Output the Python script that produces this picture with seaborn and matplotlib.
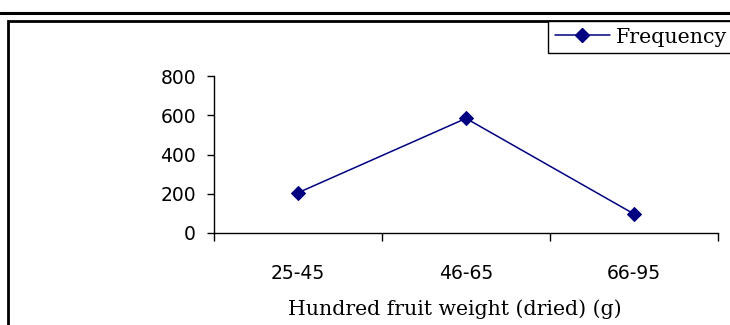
import matplotlib
matplotlib.use("Agg")
import matplotlib.pyplot as plt
from matplotlib.lines import Line2D
from matplotlib.patches import Rectangle
import numpy as np
import pandas as pd
import seaborn as sns

categories = ["25-45", "46-65", "66-95"]
frequency = [205, 584, 97]
y_ticks = [0, 200, 400, 600, 800]
x_label = "Hundred fruit weight (dried) (g)"
series_name = "Frequency"

sns.set_style("white")
plt.rcParams['font.family'] = ['DejaVu Sans']
plt.rcParams['text.color'] = 'black'
plt.rcParams['xtick.color'] = 'black'
plt.rcParams['ytick.color'] = 'black'
plt.rcParams['axes.labelcolor'] = 'black'

W, H = 730, 325
fig = plt.figure(figsize=(W / 100, H / 100), dpi=100)
ax = fig.add_axes([214 / W, 1 - 233 / H, (718 - 214) / W, (233 - 76) / H])

pos = np.arange(len(categories))
df = pd.DataFrame({"pos": pos, "freq": frequency, "series": series_name})
sns.lineplot(data=df, x="pos", y="freq", ax=ax, color="#000080", marker="D",
             markersize=7, markeredgecolor="#000080", linewidth=1.1, legend=False)

ax.set_xlim(-0.5, len(categories) - 0.5)
ax.set_ylim(y_ticks[0], y_ticks[-1])
ax.set_yticks(y_ticks)
ax.set_yticklabels([str(v) for v in y_ticks], fontsize=13.5)
ax.set_xticks(np.arange(len(categories) + 1) - 0.5)
ax.set_xticklabels([])
ax.set_xticks(pos, minor=True)
ax.set_xticklabels(categories, minor=True, fontsize=13.5)
ax.tick_params(axis="x", which="minor", bottom=True, length=0, pad=22)
ax.tick_params(axis="x", which="major", bottom=True, length=6, width=1,
               color="black", direction="out")
ax.tick_params(axis="y", left=True, length=5, width=1, color="black",
               direction="out", pad=8)
ax.set_xlabel(x_label, family="DejaVu Serif", fontsize=14.7, labelpad=12, x=0.478)
ax.set_ylabel("")
for s in ["top", "right"]:
    ax.spines[s].set_visible(False)
for s in ["left", "bottom"]:
    ax.spines[s].set_color("black")
    ax.spines[s].set_linewidth(1)
ax.set_facecolor("none")
ax.grid(False)

# decorative frame lines
fig.add_artist(Line2D([0, 1], [1 - 12.5 / H, 1 - 12.5 / H], transform=fig.transFigure,
                      color="black", lw=2.2))
fig.add_artist(Rectangle((8 / W, -0.2), 1.2, (1 - 21 / H) + 0.2, transform=fig.transFigure,
                         fill=False, edgecolor="black", lw=2))

handle = Line2D([], [], color="#000080", marker="D", markersize=7, lw=1.1)
leg = fig.legend([handle], [series_name], loc="upper left",
                 bbox_to_anchor=(548 / W, 1 - 21 / H), borderaxespad=0,
                 fancybox=False, framealpha=1, edgecolor="black",
                 prop={"family": "DejaVu Serif", "size": 14.8},
                 handlelength=2.7, handletextpad=0.3, borderpad=0.32)
leg.get_frame().set_linewidth(1)

fig.savefig("out.png", dpi=100)
